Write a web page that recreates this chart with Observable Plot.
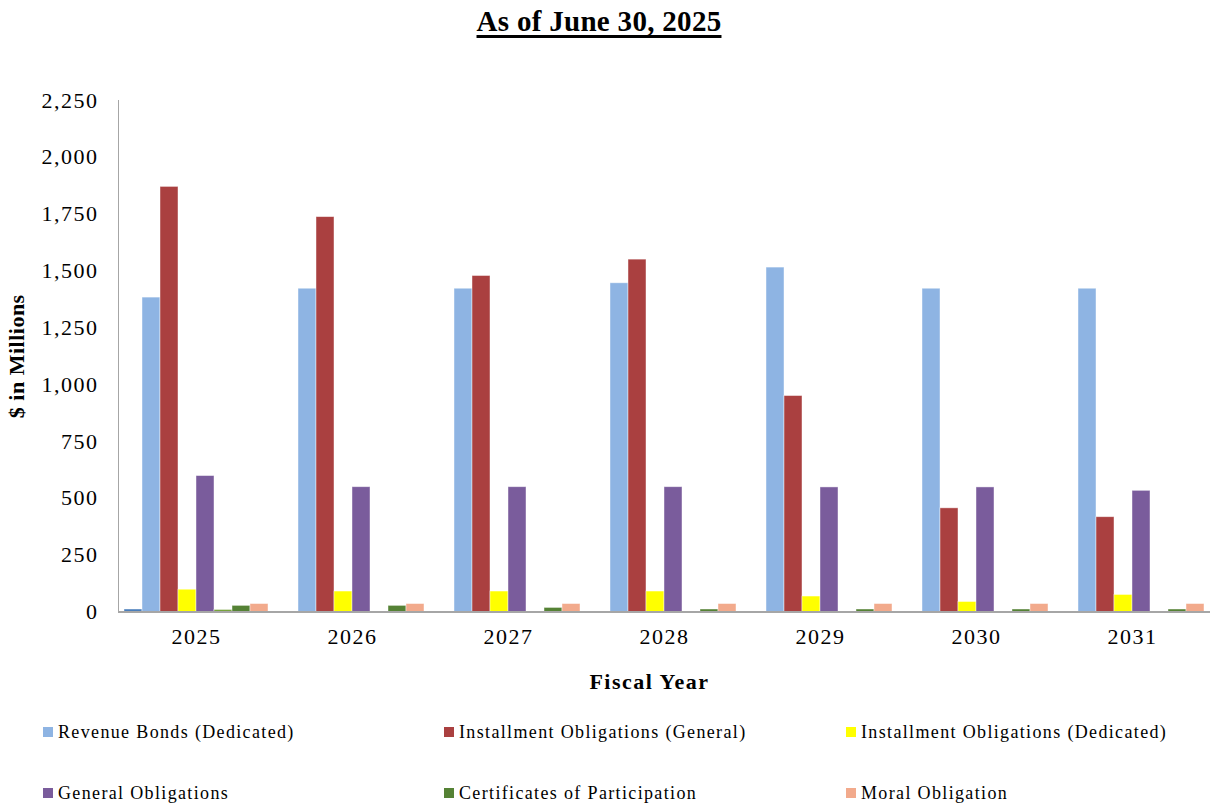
<!DOCTYPE html>
<html>
<head>
<meta charset="utf-8">
<script src="https://cdn.jsdelivr.net/npm/d3@7"></script>
<script src="https://cdn.jsdelivr.net/npm/@observablehq/plot@0.6"></script>
<style>
  html, body { margin: 0; padding: 0; background: #fff; }
  body { width: 1211px; height: 804px; position: relative; overflow: hidden; font-family: "Liberation Serif", "Times New Roman", serif; }
  #title { position: absolute; top: 5px; left: 0; width: 1198px; text-align: center; font-weight: bold; font-size: 29px; letter-spacing: 0.3px; text-decoration: underline; text-decoration-thickness: 3px; text-underline-offset: 4px; color: #000; }
  #chart { position: absolute; top: 50px; left: 0; }
  #chart svg text { fill: #000; letter-spacing: 1.5px; }
  #chart svg g[aria-label="y-axis label"] text { font-weight: bold; letter-spacing: 0.5px; }
  #legend { position: absolute; top: 721px; left: 43px; display: grid; grid-template-columns: 401px 402px 360px; row-gap: 39px; }
  .item { display: flex; align-items: center; height: 22px; font-size: 18px; letter-spacing: 1.35px; white-space: nowrap; color: #000; }
  .sw { width: 10px; height: 10px; margin-right: 5px; flex: none; }
</style>
</head>
<body>
<div id="title">As of June 30, 2025</div>
<div id="chart"></div>
<div id="legend"></div>
<script>
// ---- data ----
const years = ["2025", "2026", "2027", "2028", "2029", "2030", "2031"];
const seriesKeys = [
  "Unlabeled series A",
  "Revenue Bonds (Dedicated)",
  "Installment Obligations (General)",
  "Installment Obligations (Dedicated)",
  "General Obligations",
  "Unlabeled series B",
  "Certificates of Participation",
  "Moral Obligation"
];
const legendKeys = [
  "Revenue Bonds (Dedicated)",
  "Installment Obligations (General)",
  "Installment Obligations (Dedicated)",
  "General Obligations",
  "Certificates of Participation",
  "Moral Obligation"
];
const unlabeledA = [11, 0, 0, 0, 0, 0, 0];
const revenueBondsDedicated = [1383, 1422, 1422, 1446, 1515, 1422, 1422];
const installmentGeneral = [1870, 1737, 1478, 1550, 950, 456, 417];
const installmentDedicated = [98, 90, 90, 90, 68, 44, 75];
const generalObligations = [598, 549, 549, 549, 548, 548, 533];
const unlabeledB = [9, 0, 0, 0, 0, 0, 0];
const certificatesOfParticipation = [27, 27, 18, 11, 11, 11, 11];
const moralObligation = [35, 35, 35, 35, 35, 35, 35];
const yTicks = [0, 250, 500, 750, 1000, 1250, 1500, 1750, 2000, 2250];
const xTitle = "Fiscal Year";
const yTitle = "$ in Millions";
const colors = ["#4A7EBB", "#8EB4E3", "#AA4040", "#FFFF00", "#7A5C9C", "#77A33C", "#558235", "#F2AA8C"];

const seriesValues = [unlabeledA, revenueBondsDedicated, installmentGeneral, installmentDedicated,
  generalObligations, unlabeledB, certificatesOfParticipation, moralObligation];
const table = years.flatMap((yr, i) => seriesKeys.map((k, j) => ({year: yr, series: k, value: seriesValues[j][i]})));

const chart = Plot.plot({
  width: 1211,
  height: 665,
  marginTop: 50,
  marginBottom: 103.5,
  marginLeft: 118,
  marginRight: 1,
  style: {fontFamily: "Liberation Serif, Times New Roman, serif", fontSize: "22px", color: "#a6a6a6", background: "white", overflow: "visible"},
  fx: {domain: years, padding: 0, axis: "bottom", tickSize: 0, tickPadding: 16, label: null},
  x: {domain: seriesKeys, paddingInner: 0, paddingOuter: 0.27, axis: null},
  y: {domain: [0, 2250], ticks: yTicks, tickFormat: d3.format(","), tickSize: 0, tickPadding: 20, line: true,
      label: yTitle, labelAnchor: "center", labelArrow: "none", labelOffset: 110},
  color: {domain: seriesKeys, range: colors},
  marks: [
    Plot.barY(table, {fx: "year", x: "series", y: "value", fill: "series", stroke: "#ffffff", strokeOpacity: 0.55, strokeWidth: 0.8}),
    Plot.ruleY([0], {stroke: "#a6a6a6", strokeWidth: 2}),
    Plot.text([xTitle], {facet: "super", frameAnchor: "bottom", dx: -15, dy: 77, fontWeight: "bold", fontSize: 22})
  ]
});
document.getElementById("chart").appendChild(chart);

const legend = document.getElementById("legend");
legendKeys.forEach(k => {
  const item = document.createElement("div");
  item.className = "item";
  const sw = document.createElement("span");
  sw.className = "sw";
  sw.style.background = colors[seriesKeys.indexOf(k)];
  item.appendChild(sw);
  item.appendChild(document.createTextNode(k));
  legend.appendChild(item);
});
</script>
</body>
</html>
